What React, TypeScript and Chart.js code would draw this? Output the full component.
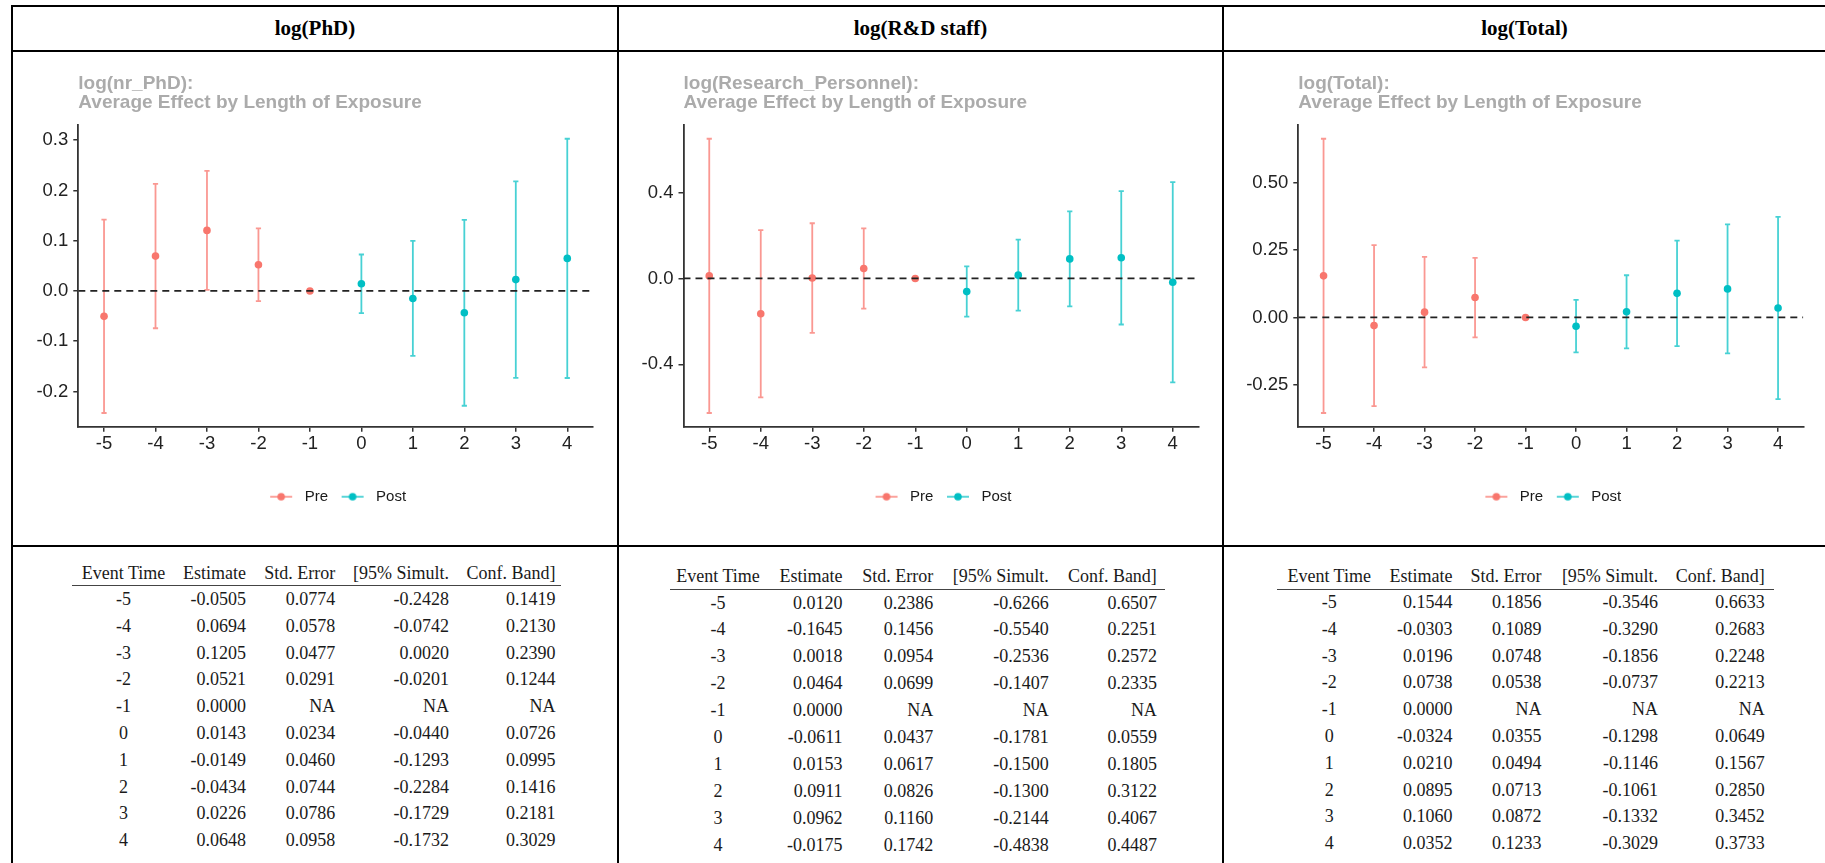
import React, { useEffect, useRef } from "react";
import { Chart, registerables } from "chart.js";

Chart.register(...registerables);

// ---------------- data ----------------
const eventTimes = [-5, -4, -3, -2, -1, 0, 1, 2, 3, 4];
const xTickLabels = ["-5", "-4", "-3", "-2", "-1", "0", "1", "2", "3", "4"];
const seriesNames = ["Pre", "Post"];
const tableHeaders = ["Event Time", "Estimate", "Std. Error", "[95% Simult.", "Conf. Band]"];

// log(PhD)
const phdEstimate = [-0.0505, 0.0694, 0.1205, 0.0521, 0.0, 0.0143, -0.0149, -0.0434, 0.0226, 0.0648];
const phdStdError = [0.0774, 0.0578, 0.0477, 0.0291, null, 0.0234, 0.046, 0.0744, 0.0786, 0.0958];
const phdLower = [-0.2428, -0.0742, 0.002, -0.0201, null, -0.044, -0.1293, -0.2284, -0.1729, -0.1732];
const phdUpper = [0.1419, 0.213, 0.239, 0.1244, null, 0.0726, 0.0995, 0.1416, 0.2181, 0.3029];
const phdYTicks = [-0.2, -0.1, 0, 0.1, 0.2, 0.3];
const phdYTickLabels = ["-0.2", "-0.1", "0.0", "0.1", "0.2", "0.3"];

// log(R&D staff)
const rdEstimate = [0.012, -0.1645, 0.0018, 0.0464, 0.0, -0.0611, 0.0153, 0.0911, 0.0962, -0.0175];
const rdStdError = [0.2386, 0.1456, 0.0954, 0.0699, null, 0.0437, 0.0617, 0.0826, 0.116, 0.1742];
const rdLower = [-0.6266, -0.554, -0.2536, -0.1407, null, -0.1781, -0.15, -0.13, -0.2144, -0.4838];
const rdUpper = [0.6507, 0.2251, 0.2572, 0.2335, null, 0.0559, 0.1805, 0.3122, 0.4067, 0.4487];
const rdYTicks = [-0.4, 0, 0.4];
const rdYTickLabels = ["-0.4", "0.0", "0.4"];

// log(Total)
const totEstimate = [0.1544, -0.0303, 0.0196, 0.0738, 0.0, -0.0324, 0.021, 0.0895, 0.106, 0.0352];
const totStdError = [0.1856, 0.1089, 0.0748, 0.0538, null, 0.0355, 0.0494, 0.0713, 0.0872, 0.1233];
const totLower = [-0.3546, -0.329, -0.1856, -0.0737, null, -0.1298, -0.1146, -0.1061, -0.1332, -0.3029];
const totUpper = [0.6633, 0.2683, 0.2248, 0.2213, null, 0.0649, 0.1567, 0.285, 0.3452, 0.3733];
const totYTicks = [-0.25, 0, 0.25, 0.5];
const totYTickLabels = ["-0.25", "0.00", "0.25", "0.50"];

// ---------------- style / layout ----------------
const SANS = "'Liberation Sans', Arial, sans-serif";
const SERIF = "'Liberation Serif', 'Times New Roman', serif";
const PRE_COLOR = "#F8766D";
const POST_COLOR = "#00BFC4";
const PRE_BAR = "rgba(248,118,109,0.75)";
const POST_BAR = "rgba(0,191,196,0.72)";
const AXIS_COLOR = "#333333";
const CANVAS_TOP = 52;
const CANVAS_H = 492;
const X_AXIS_H = 53.9;
const LEGEND_PAD = 8.6;

const panels = [
  {
    header: "log(PhD)",
    title: ["log(nr_PhD):", "Average Effect by Length of Exposure"],
    est: phdEstimate, se: phdStdError, lo: phdLower, hi: phdUpper,
    yTicks: phdYTicks, yTickLabels: phdYTickLabels,
    colLeft: 13, colWidth: 604, axisWidth: 65.3, padRight: 24,
    table: { left: 72.4, widths: [102.4, 71.2, 89.3, 113.7, 106.5], padRight: 6, headerY: 572.5, ruleY: 585.7, firstRowY: 599, rowStep: 26.8 },
  },
  {
    header: "log(R&D staff)",
    title: ["log(Research_Personnel):", "Average Effect by Length of Exposure"],
    est: rdEstimate, se: rdStdError, lo: rdLower, hi: rdUpper,
    yTicks: rdYTicks, yTickLabels: rdYTickLabels,
    colLeft: 619, colWidth: 603, axisWidth: 64.5, padRight: 23.5,
    table: { left: 669.5, widths: [97, 76.1, 90.6, 115.5, 108.2], padRight: 8.5, headerY: 575.5, ruleY: 589.3, firstRowY: 602.5, rowStep: 26.9 },
  },
  {
    header: "log(Total)",
    title: ["log(Total):", "Average Effect by Length of Exposure"],
    est: totEstimate, se: totStdError, lo: totLower, hi: totUpper,
    yTicks: totYTicks, yTickLabels: totYTickLabels,
    colLeft: 1224, colWidth: 601, axisWidth: 74.3, padRight: 21.7,
    table: { left: 1277.1, widths: [104.2, 71.3, 88.8, 116.5, 106.9], padRight: 8.8, headerY: 575.5, ruleY: 589.3, firstRowY: 602, rowStep: 26.8 },
  },
];

// ---------------- helpers ----------------
function legendMarker(lineColor: string, dotColor: string) {
  const c = document.createElement("canvas");
  c.width = 32;
  c.height = 12;
  const g = c.getContext("2d")!;
  g.strokeStyle = lineColor;
  g.lineWidth = 1.8;
  g.beginPath();
  g.moveTo(5, 6);
  g.lineTo(27, 6);
  g.stroke();
  g.fillStyle = dotColor;
  g.beginPath();
  g.arc(16, 6, 3.8, 0, Math.PI * 2);
  g.fill();
  return c;
}

const errorBarPlugin = {
  id: "errorBars",
  beforeDatasetsDraw(chart: any) {
    const { ctx, scales } = chart;
    const x = scales.x;
    const y = scales.y;
    chart.data.datasets.forEach((ds: any) => {
      if (!ds.errorColor) return;
      ctx.save();
      ctx.strokeStyle = ds.errorColor;
      ctx.lineWidth = 1.8;
      const cap = 2.6;
      ds.data.forEach((p: any) => {
        if (p.lo === null || p.hi === null) return;
        const px = x.getPixelForValue(p.x);
        const yl = y.getPixelForValue(p.lo);
        const yh = y.getPixelForValue(p.hi);
        ctx.beginPath();
        ctx.moveTo(px, yl);
        ctx.lineTo(px, yh);
        ctx.moveTo(px - cap, yl);
        ctx.lineTo(px + cap, yl);
        ctx.moveTo(px - cap, yh);
        ctx.lineTo(px + cap, yh);
        ctx.stroke();
      });
      ctx.restore();
    });
  },
};

function EventChart({ cfg }: { cfg: any }) {
  const ref = useRef<HTMLCanvasElement>(null);
  useEffect(() => {
    const canvas = ref.current!;
    const pre: any[] = [];
    const post: any[] = [];
    eventTimes.forEach((t, i) => {
      const p = { x: t, y: cfg.est[i], lo: cfg.lo[i], hi: cfg.hi[i] };
      (t < 0 ? pre : post).push(p);
    });
    const vals = [...cfg.est, ...cfg.lo, ...cfg.hi].filter((v: any) => v !== null) as number[];
    const dMin = Math.min(...vals);
    const dMax = Math.max(...vals);
    const ext = (dMax - dMin) * 0.05;
    const xMin = eventTimes[0] - 0.5;
    const xMax = eventTimes[eventTimes.length - 1] + 0.5;

    const markers = [legendMarker(PRE_BAR, PRE_COLOR), legendMarker(POST_BAR, POST_COLOR)];

    const chart = new Chart(canvas, {
      type: "scatter",
      data: {
        datasets: [
          {
            type: "line",
            label: "zero",
            data: [{ x: xMin, y: 0 }, { x: xMax, y: 0 }],
            borderColor: "#222222",
            borderWidth: 1.8,
            borderDash: [7, 5],
            pointRadius: 0,
            fill: false,
          } as any,
          {
            label: seriesNames[0],
            data: pre,
            backgroundColor: PRE_COLOR,
            borderColor: PRE_COLOR,
            borderWidth: 0,
            pointRadius: 3.8,
            errorColor: PRE_BAR,
          } as any,
          {
            label: seriesNames[1],
            data: post,
            backgroundColor: POST_COLOR,
            borderColor: POST_COLOR,
            borderWidth: 0,
            pointRadius: 3.8,
            errorColor: POST_BAR,
          } as any,
        ],
      },
      options: {
        animation: false,
        responsive: false,
        devicePixelRatio: 1,
        events: [],
        layout: { autoPadding: false, padding: { left: 0, right: cfg.padRight, top: 0, bottom: 29.8 } },
        plugins: {
          tooltip: { enabled: false },
          title: {
            display: true,
            text: cfg.title,
            align: "start",
            fullSize: false,
            color: "#ababab",
            font: { family: SANS, size: 19, weight: "bold", lineHeight: 0.98 },
            padding: { top: 22.7, bottom: 13.1 },
          },
          legend: {
            display: true,
            position: "bottom",
            fullSize: false,
            align: "center",
            labels: {
              usePointStyle: true,
              pointStyleWidth: 32,
              padding: LEGEND_PAD,
              color: "#1a1a1a",
              font: { family: SANS, size: 15 },
              generateLabels: () =>
                seriesNames.map((name, i) => ({
                  text: name,
                  pointStyle: markers[i],
                  fillStyle: i === 0 ? PRE_COLOR : POST_COLOR,
                  strokeStyle: i === 0 ? PRE_COLOR : POST_COLOR,
                  lineWidth: 0,
                  hidden: false,
                  datasetIndex: i + 1,
                  fontColor: "#1a1a1a",
                })) as any,
            },
          },
        },
        scales: {
          x: {
            type: "linear",
            min: xMin,
            max: xMax,
            afterBuildTicks: (s: any) => {
              s.ticks = eventTimes.map((v) => ({ value: v }));
            },
            afterFit: (s: any) => {
              s.height = X_AXIS_H;
            },
            ticks: {
              autoSkip: false,
              maxRotation: 0,
              padding: 1,
              color: "#222222",
              font: { family: SANS, size: 18.5 },
              callback: (_v: any, i: number) => xTickLabels[i],
            },
            grid: { drawOnChartArea: false, drawTicks: true, tickLength: 5, color: AXIS_COLOR, lineWidth: 1.5 },
            border: { display: true, color: AXIS_COLOR, width: 1.8 },
          },
          y: {
            type: "linear",
            min: dMin - ext,
            max: dMax + ext,
            afterBuildTicks: (s: any) => {
              s.ticks = cfg.yTicks.map((v: number) => ({ value: v }));
            },
            afterFit: (s: any) => {
              s.width = cfg.axisWidth;
            },
            ticks: {
              autoSkip: false,
              padding: 5,
              color: "#222222",
              font: { family: SANS, size: 18.5 },
              callback: (_v: any, i: number) => cfg.yTickLabels[i],
            },
            grid: { drawOnChartArea: false, drawTicks: true, tickLength: 5, color: AXIS_COLOR, lineWidth: 1.5 },
            border: { display: true, color: AXIS_COLOR, width: 1.8 },
          },
        },
      } as any,
      plugins: [errorBarPlugin],
    });
    return () => chart.destroy();
  }, [cfg]);
  return (
    <canvas
      ref={ref}
      width={cfg.colWidth}
      height={CANVAS_H}
      style={{ position: "absolute", left: cfg.colLeft, top: CANVAS_TOP, width: cfg.colWidth, height: CANVAS_H }}
    />
  );
}

function fmt(v: number | null) {
  return v === null ? "NA" : v.toFixed(4);
}

function EffectTable({ cfg }: { cfg: any }) {
  const t = cfg.table;
  const rowH = 24;
  const offsets: number[] = [];
  let acc = 0;
  t.widths.forEach((w: number) => {
    offsets.push(acc);
    acc += w;
  });
  const totalW = acc + t.padRight;
  const row = (cells: string[], yc: number, key: string) => (
    <div key={key} style={{ position: "absolute", left: t.left, top: yc - rowH / 2, width: totalW, height: rowH }}>
      {cells.map((c, j) => (
        <div
          key={j}
          style={{
            position: "absolute",
            left: offsets[j],
            top: 0,
            width: t.widths[j],
            height: rowH,
            lineHeight: rowH + "px",
            textAlign: j === 0 ? "center" : "right",
            whiteSpace: "nowrap",
          }}
        >
          {c}
        </div>
      ))}
    </div>
  );
  return (
    <div style={{ fontFamily: SERIF, fontSize: 18, color: "#1a1a1a" }}>
      {row(tableHeaders, t.headerY, "h")}
      <div style={{ position: "absolute", left: t.left, top: t.ruleY - 0.7, width: totalW, height: 1.4, background: "#444" }} />
      {eventTimes.map((et, i) =>
        row([String(et), fmt(cfg.est[i]), fmt(cfg.se[i]), fmt(cfg.lo[i]), fmt(cfg.hi[i])], t.firstRowY + i * t.rowStep, "r" + i)
      )}
    </div>
  );
}

function Line({ l, t, w, h }: { l: number; t: number; w: number; h: number }) {
  return <div style={{ position: "absolute", left: l, top: t, width: w, height: h, background: "#000" }} />;
}

export default function App() {
  return (
    <div style={{ position: "absolute", left: 0, top: 0, width: 1825, height: 863, background: "#fff", overflow: "hidden" }}>
      {panels.map((p, i) => (
        <div
          key={"hd" + i}
          style={{
            position: "absolute",
            left: p.colLeft,
            top: 7,
            width: p.colWidth,
            height: 42,
            lineHeight: "42px",
            textAlign: "center",
            fontFamily: SERIF,
            fontWeight: "bold",
            fontSize: 21,
            color: "#000",
          }}
        >
          {p.header}
        </div>
      ))}
      {panels.map((p, i) => (
        <EventChart key={"c" + i} cfg={p} />
      ))}
      {panels.map((p, i) => (
        <EffectTable key={"t" + i} cfg={p} />
      ))}
      <Line l={11} t={4.5} w={1814} h={2.2} />
      <Line l={11} t={49.5} w={1814} h={2.2} />
      <Line l={11} t={544.8} w={1814} h={2.2} />
      <Line l={11} t={4.5} w={2.2} h={860} />
      <Line l={616.8} t={4.5} w={2.2} h={860} />
      <Line l={1221.8} t={4.5} w={2.2} h={860} />
    </div>
  );
}
